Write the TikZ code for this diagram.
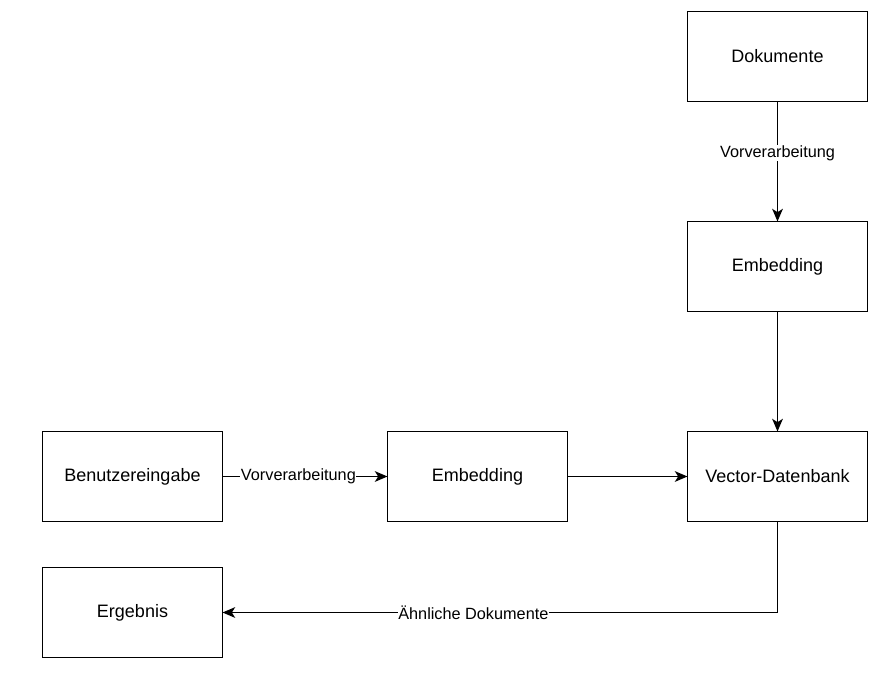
\documentclass[tikz,border=0pt]{standalone}
\usepackage{fontspec}
\setmainfont{Liberation Sans}
\usetikzlibrary{positioning,arrows.meta}

\begin{document}
\begin{tikzpicture}[node distance=90pt, x=0.75pt, y=-0.75pt]
        \tikzstyle{box}=[draw, line width=1.1pt, outer sep=0pt, minimum width=135pt, minimum height=67.5pt, font=\fontsize{13.5}{16}\selectfont];
        \tikzstyle{arr}=[draw, line width=1.1pt, -{Stealth[length=9.5pt,width=8pt,inset=2.5pt]}];
        \tikzstyle{lbl}=[fill=white, inner sep=0.5pt, font=\fontsize{12.2}{14}\selectfont];
        \useasboundingbox (0,0) rectangle (892,678);
        \node[box] (doc) at (777.5,56.5) {Dokumente};
        \node[box,below = of doc] (emb1) {Embedding};
        \node[box,below = of emb1] (vdb) {Vector-Datenbank};
        \node[box,left = 90pt of vdb] (emb2) {Embedding};
        \node[box,left = 123.75pt of emb2] (input) {Benutzereingabe};
        \node[box,below = 34.5pt of input] (res) {Ergebnis};
        \draw[arr] (doc) -- node[lbl,pos=0.43] {Vorverarbeitung} (emb1);
        \draw[arr] (emb1) -- (vdb);
        \draw[arr] (input) -- node[lbl,pos=0.46] {Vorverarbeitung} (emb2);
        \draw[arr] (emb2) -- (vdb);
        \draw[arr] (vdb) |- node[lbl,pos=0.774] {Ähnliche Dokumente} (res);
    \end{tikzpicture}
\end{document}
